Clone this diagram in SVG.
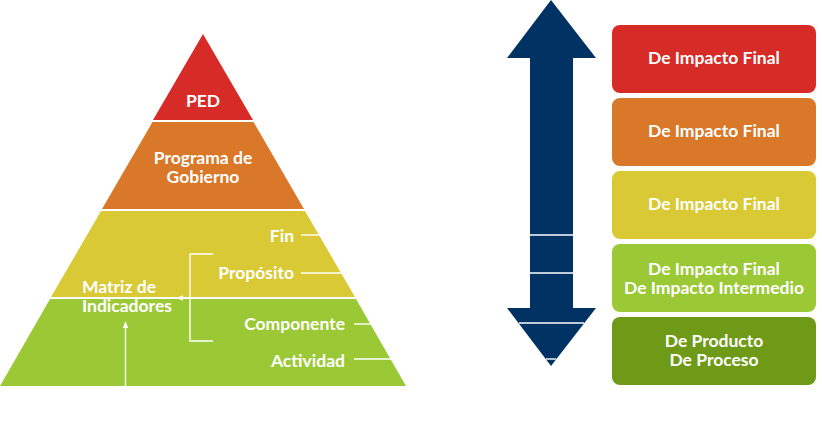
<svg xmlns="http://www.w3.org/2000/svg" width="822" height="448" viewBox="0 0 822 448">
<style>
.t{font-family:Lato,"Open Sans","Liberation Sans",sans-serif;font-weight:bold;fill:#fff;font-size:17.5px}
.c{text-anchor:middle}
.r{text-anchor:end}
.b{font-size:17.5px}
.w{stroke:#fff;stroke-width:1.4;fill:none}
</style>
<defs>
<marker id="ah" viewBox="0 0 10 10" refX="9" refY="5" markerWidth="7" markerHeight="7" orient="auto" markerUnits="userSpaceOnUse">
<path d="M0,1 L10,5 L0,9 Z" fill="#fff"/>
</marker>
</defs>
<rect width="822" height="448" fill="#fff"/>
<g id="pyramid">
<g id="ped"><polygon points="203,34 253,120 153,120" fill="#D62B27"/><text class="t c" x="203" y="107">PED</text></g>
<g id="programa"><polygon points="152.5,122 253.5,122 304,209 102,209" fill="#D97828"/><text class="t c" x="203" y="164">Programa de</text><text class="t c" x="203" y="183">Gobierno</text></g>
<g id="yellow"><polygon points="101,211 305,211 355,297 51,297" fill="#D9C935"/><text class="t r" x="294" y="242">Fin</text><text class="t r" x="294" y="279">Propósito</text></g>
<g id="green"><polygon points="50,299 356,299 406,386 0,386" fill="#9BC935"/><text class="t r" x="345" y="330">Componente</text><text class="t r" x="345" y="367">Actividad</text></g>
<g id="matriz"><text class="t" x="82" y="293">Matriz de</text><text class="t" x="82" y="312">Indicadores</text></g>
</g>
<g id="connectors">
<line class="w" x1="301" y1="235" x2="320" y2="235"/>
<line class="w" x1="301" y1="273" x2="342" y2="273"/>
<line class="w" x1="354" y1="324" x2="371" y2="324"/>
<line class="w" x1="354" y1="359" x2="391" y2="359"/>
<polyline class="w" points="213,254 190,254 190,341 213,341"/>
<line class="w" x1="190" y1="298" x2="177" y2="298" marker-end="url(#ah)"/>
<line class="w" x1="125.5" y1="386" x2="125.5" y2="322" marker-end="url(#ah)"/>
</g>
<g id="arrow">
<polygon points="551,0 596,58 573,58 573,308 596,308 551,366 507,308 530,308 530,58 507,58" fill="#003363"/>
<line class="w" x1="530" y1="235" x2="573" y2="235"/>
<line class="w" x1="530" y1="273" x2="573" y2="273"/>
<line class="w" x1="519" y1="323" x2="584" y2="323"/>
<line class="w" x1="546" y1="359" x2="556" y2="359"/>
</g>
<g id="box1"><rect x="612" y="25" width="204" height="68" rx="8" fill="#D62B27"/><text class="t c b" x="714" y="64">De Impacto Final</text></g>
<g id="box2"><rect x="612" y="98" width="204" height="68" rx="8" fill="#D97828"/><text class="t c b" x="714" y="137">De Impacto Final</text></g>
<g id="box3"><rect x="612" y="171" width="204" height="68" rx="8" fill="#D9C935"/><text class="t c b" x="714" y="210">De Impacto Final</text></g>
<g id="box4"><rect x="612" y="244" width="204" height="68" rx="8" fill="#9BC935"/><text class="t c b" x="714" y="275">De Impacto Final</text><text class="t c b" x="714" y="294">De Impacto Intermedio</text></g>
<g id="box5"><rect x="612" y="317" width="204" height="68" rx="8" fill="#6E9A17"/><text class="t c b" x="714" y="347">De Producto</text><text class="t c b" x="714" y="366">De Proceso</text></g>
</svg>
